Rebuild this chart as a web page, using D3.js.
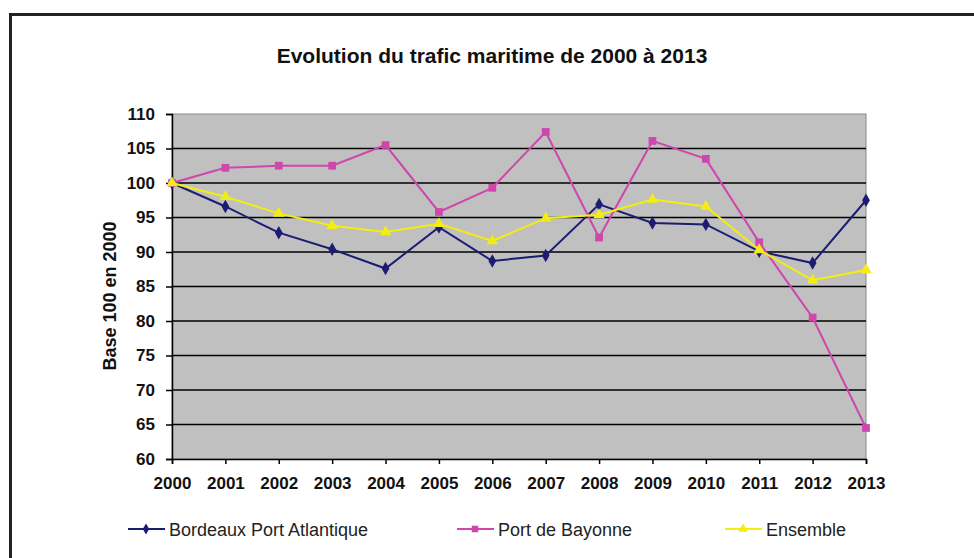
<!DOCTYPE html>
<html>
<head>
<meta charset="utf-8">
<script src="https://cdn.jsdelivr.net/npm/d3@7"></script>
<style>
  body { margin: 0; background: #fff; }
  svg { display: block; font-family: "Liberation Sans", Arial, sans-serif; }
</style>
</head>
<body>
<div id="chart"></div>
<script>
const years = ["2000","2001","2002","2003","2004","2005","2006","2007","2008","2009","2010","2011","2012","2013"];
const bordeaux = [100, 96.6, 92.8, 90.4, 87.6, 93.6, 88.7, 89.5, 96.9, 94.2, 94.0, 90.1, 88.4, 97.5];
const bayonne  = [100, 102.2, 102.5, 102.5, 105.5, 95.8, 99.3, 107.4, 92.1, 106.1, 103.5, 91.4, 80.5, 64.5];
const ensemble = [100, 98.0, 95.6, 93.8, 92.9, 94.1, 91.6, 94.9, 95.4, 97.6, 96.6, 90.3, 85.9, 87.4];
const yTicks = [60, 65, 70, 75, 80, 85, 90, 95, 100, 105, 110];

const W = 974, H = 558;
const margin = { top: 114, right: 108, bottom: 99, left: 172 };
const width = W - margin.left - margin.right;
const height = H - margin.top - margin.bottom;

const svg = d3.select("#chart").append("svg")
    .attr("width", W)
    .attr("height", H);

// outer frame
svg.append("rect")
    .attr("x", 10.5).attr("y", 14.5)
    .attr("width", 1000).attr("height", 600)
    .attr("fill", "none")
    .attr("stroke", "#222")
    .attr("stroke-width", 3);

svg.append("text")
    .attr("x", 492).attr("y", 63)
    .attr("text-anchor", "middle")
    .attr("font-size", 21).attr("font-weight", "bold")
    .attr("fill", "#111")
    .text("Evolution du trafic maritime de 2000 à 2013");

const g = svg.append("g").attr("transform", `translate(${margin.left},${margin.top})`);

const x = d3.scalePoint().domain(years).range([0, width]);
const y = d3.scaleLinear().domain([60, 110]).range([height, 0]);

g.append("rect")
    .attr("width", width).attr("height", height)
    .attr("fill", "#c0c0c0")
    .attr("stroke", "#888").attr("stroke-width", 1);

// gridlines
g.selectAll("line.grid")
    .data(yTicks.filter(d => d > 60 && d < 110))
    .join("line")
    .attr("class", "grid")
    .attr("x1", 0).attr("x2", width)
    .attr("y1", d => y(d)).attr("y2", d => y(d))
    .attr("stroke", "#000").attr("stroke-width", 1.5);

const yAxis = g.append("g")
    .call(d3.axisLeft(y).tickValues(yTicks).tickSize(6).tickPadding(11));
const xAxis = g.append("g")
    .attr("transform", `translate(0,${height})`)
    .call(d3.axisBottom(x).tickSize(5).tickPadding(13));

[yAxis, xAxis].forEach(a => {
    a.select(".domain").attr("stroke", "#000").attr("stroke-width", 1.5);
    a.selectAll(".tick line").attr("stroke", "#000").attr("stroke-width", 1.5);
    a.selectAll("text")
        .attr("font-family", "Liberation Sans, Arial, sans-serif")
        .attr("font-size", 17).attr("font-weight", "bold").attr("fill", "#111");
});

svg.append("text")
    .attr("transform", `translate(116,296) rotate(-90)`)
    .attr("text-anchor", "middle")
    .attr("font-size", 18).attr("font-weight", "bold")
    .attr("fill", "#111")
    .text("Base 100 en 2000");

const series = [
    { name: "Bordeaux Port Atlantique", values: bordeaux, color: "#1c1c72", symbol: d3.symbolDiamond, size: 52 },
    { name: "Port de Bayonne", values: bayonne, color: "#cf46ad", symbol: d3.symbolSquare, size: 60 },
    { name: "Ensemble", values: ensemble, color: "#f2ee10", symbol: d3.symbolTriangle, size: 56 }
];

const line = d3.line()
    .x((d, i) => x(years[i]))
    .y(d => y(d));

series.forEach(s => {
    g.append("path")
        .datum(s.values)
        .attr("fill", "none")
        .attr("stroke", s.color)
        .attr("stroke-width", 2)
        .attr("d", line);
    g.selectAll(null)
        .data(s.values)
        .join("path")
        .attr("transform", (d, i) => `translate(${x(years[i])},${y(d)})`)
        .attr("d", d3.symbol(s.symbol, s.size))
        .attr("fill", s.color);
});

// legend
const legendX = [128, 457, 725];
series.forEach((s, i) => {
    const lg = svg.append("g").attr("transform", `translate(${legendX[i]},529)`);
    lg.append("line").attr("x1", 0).attr("x2", 37).attr("stroke", s.color).attr("stroke-width", 2);
    lg.append("path").attr("transform", "translate(18,0)")
        .attr("d", d3.symbol(s.symbol, s.size * 0.7)).attr("fill", s.color);
    lg.append("text").attr("x", 41).attr("y", 6.5)
        .attr("font-size", 18).attr("fill", "#222")
        .text(s.name);
});
</script>
</body>
</html>
